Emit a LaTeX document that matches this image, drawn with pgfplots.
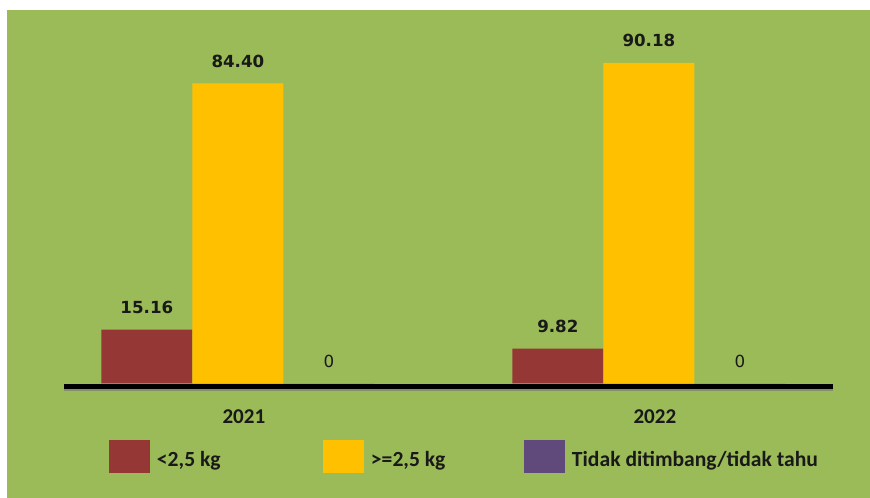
\documentclass[border=0pt]{standalone}
\usepackage{pgfplots}
\pgfplotsset{compat=1.18}
\usepackage{fontspec}
\setmainfont{Carlito}
\newfontfamily\dejavu{DejaVu Sans}
\definecolor{bggreen}{HTML}{9BBB59}
\definecolor{barred}{HTML}{953735}
\definecolor{baryellow}{HTML}{FFC000}
\definecolor{barpurple}{HTML}{604A7B}
\begin{document}
\begin{tikzpicture}[x=0.75pt,y=0.75pt]
\fill[white] (0,0) rectangle (870,498);
\fill[bggreen] (7,0) rectangle (870,488);
\begin{axis}[
  at={(48pt,83.25pt)}, anchor=south west,
  scale only axis, width=576.75pt, height=282.75pt,
  xmin=-0.423, xmax=1.448, ymin=-1.0, ymax=105.05,
  ybar=0pt, bar width=68.25pt,
  axis x line=bottom, axis y line=none,
  x axis line style={-, draw=none},
  xtick={0,1}, xticklabels={2021,2022}, xtick style={draw=none},
  ytick=\empty,
  xticklabel style={anchor=center, yshift=-20.25pt, xshift=4.5pt, font=\bfseries\fontsize{15.8}{18}\selectfont, text=black!90},
  nodes near coords, point meta=explicit symbolic,
  every node near coord/.append style={anchor=center, yshift=16.5pt, font=\dejavu\bfseries\fontsize{12.5}{15}\selectfont, text=black!90},
  legend columns=3, legend cell align=left,
  legend style={at={(axis description cs:0.0585,-0.1844)}, anchor=west, draw=none, fill=none,
    inner sep=0pt, outer sep=0pt, row sep=0pt, column sep=0pt,
    nodes={inner sep=0pt, outer sep=0pt, font=\bfseries\fontsize{16.2}{18}\selectfont, text=black!90}},
  legend image code/.code={\fill[#1] (0pt,-9.75pt) rectangle (30.75pt,15pt);},
  clip=false,
]
\addplot[fill=barred, draw=none] coordinates {(0,15.16) [15.16] (1,9.82) [9.82]};
\addlegendentry{\makebox[129.75pt][l]{\hspace{5.25pt}<2,5 kg}}
\addplot[fill=baryellow, draw=none] coordinates {(0,84.40) [84.40] (1,90.18) [90.18]};
\addlegendentry{\makebox[120pt][l]{\hspace{5.25pt}>=2,5 kg}}
\addplot[fill=barpurple, draw=none, every node near coord/.append style={font=\dejavu\fontsize{12.5}{15}\selectfont}] coordinates {(0,0) [0] (1,0) [0]};
\addlegendentry{\hspace{5.25pt}Tidak ditimbang/tidak tahu}
\draw[line width=3.75pt, black!55, opacity=0.6] ([yshift=-1.5pt]rel axis cs:0,0) -- ([yshift=-1.5pt]rel axis cs:1,0);
\draw[line width=3.75pt, black] (rel axis cs:0,0) -- (rel axis cs:1,0);
\end{axis}
\end{tikzpicture}
\end{document}
